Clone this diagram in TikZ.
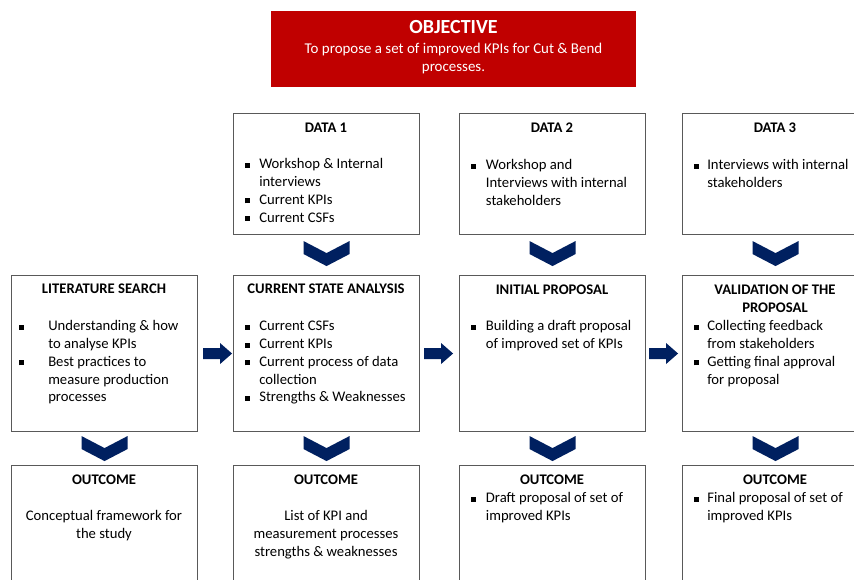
\documentclass[tikz,border=0pt]{standalone}
\usepackage{fontspec}
\setmainfont{Carlito}
\usetikzlibrary{calc}
\definecolor{objred}{HTML}{C00000}
\definecolor{navy}{HTML}{002060}
\definecolor{boxline}{HTML}{595959}
\newcommand{\sq}{\raisebox{0.9pt}{\rule{3.6pt}{3.6pt}}}
\newcommand{\blist}[2]{\begin{tabular}[t]{@{}p{#1}@{}l@{}}#2\end{tabular}}
\newcommand{\clines}[1]{\begin{tabular}[t]{@{}c@{}}#1\end{tabular}}
\tikzset{
 box/.style={draw=boxline, line width=0.8pt, anchor=north west, minimum width=139.5pt, inner sep=0pt},
 hdr/.style={font=\fontsize{11pt}{13.3pt}\selectfont\bfseries, anchor=base, inner sep=0pt},
 body/.style={font=\fontsize{11pt}{13.3pt}\selectfont, anchor=base west, inner sep=0pt},
 ctext/.style={font=\fontsize{11pt}{13.3pt}\selectfont, anchor=base, inner sep=0pt},
 chevron/.pic={\fill[navy] (-23,0) -- (-23,13) -- (0,25) -- (23,13) -- (23,0) -- (0,12) -- cycle;},
 rarrow/.pic={\fill[navy] (0,-5.5) -- (17,-5.5) -- (17,-10.5) -- (29,0) -- (17,10.5) -- (17,5.5) -- (0,5.5) -- cycle;}
}
\begin{document}
\begin{tikzpicture}[x=0.75pt,y=-0.75pt]
\useasboundingbox (0,0) rectangle (854,580);
\clip (0,0) rectangle (854,580);
\fill[white] (0,0) rectangle (854,580);
% objective
\node[fill=objred, anchor=north west, minimum width=273.75pt, minimum height=57pt, inner sep=0pt] (obj) at (271,11) {};
\node[font=\fontsize{15pt}{17pt}\selectfont\bfseries, text=white, anchor=base, inner sep=0pt] (objt) at (453.5,33.5) {OBJECTIVE};
\node[font=\fontsize{11.2pt}{13.6pt}\selectfont, text=white, anchor=base, inner sep=0pt] (objb) at (453.5,53.5) {\clines{To propose a set of improved KPIs for Cut \& Bend\\processes.}};
% boxes
\node[box, minimum height=90.75pt] (d1) at (233,113) {};
\node[box, minimum height=90.75pt] (d2) at (459,113) {};
\node[box, minimum height=90.75pt] (d3) at (682,113) {};
\node[box, minimum height=117pt] (lit) at (11,275) {};
\node[box, minimum height=117pt] (cur) at (233,275) {};
\node[box, minimum height=117pt] (ini) at (459,275) {};
\node[box, minimum height=117pt] (val) at (682,275) {};
\node[box, minimum height=117pt] (o1) at (11,465) {};
\node[box, minimum height=117pt] (o2) at (233,465) {};
\node[box, minimum height=117pt] (o3) at (459,465) {};
\node[box, minimum height=117pt] (o4) at (682,465) {};
% data texts
\node[hdr] (d1h) at (326,133) {DATA 1};
\node[body] (d1b) at (245,169) {\blist{10.5pt}{\sq & Workshop \& Internal\\ & interviews\\ \sq & Current KPIs\\ \sq & Current CSFs}};
\node[hdr] (d2h) at (552,133) {DATA 2};
\node[body] (d2b) at (471,170) {\blist{11pt}{\sq & Workshop and\\ & Interviews with internal\\ & stakeholders}};
\node[hdr] (d3h) at (775,133) {DATA 3};
\node[body] (d3b) at (694,170) {\blist{9.75pt}{\sq & Interviews with internal\\ & stakeholders}};
% row 2 texts
\node[hdr] (lith) at (104,294) {LITERATURE SEARCH};
\node[body] (litb) at (19,331) {\blist{21.75pt}{\sq & Understanding \& how\\ & to analyse KPIs\\ \sq & Best practices to\\ & measure production\\ & processes}};
\node[hdr] (curh) at (326,294) {CURRENT STATE ANALYSIS};
\node[body] (curb) at (245,331) {\blist{10.5pt}{\sq & Current CSFs\\ \sq & Current KPIs\\ \sq & Current process of data\\ & collection\\ \sq & Strengths \& Weaknesses}};
\node[hdr] (inih) at (552,295) {INITIAL PROPOSAL};
\node[body] (inib) at (471,331) {\blist{11pt}{\sq & Building a draft proposal\\ & of improved set of KPIs}};
\node[hdr] (valh) at (775,295) {\clines{VALIDATION OF THE\\PROPOSAL}};
\node[body] (valb) at (694,331) {\blist{9.75pt}{\sq & Collecting feedback\\ & from stakeholders\\ \sq & Getting final approval\\ & for proposal}};
% outcome texts
\node[hdr] (o1h) at (104,485) {OUTCOME};
\node[ctext] (o1b) at (104,521) {\clines{Conceptual framework for\\the study}};
\node[hdr] (o2h) at (326,485) {OUTCOME};
\node[ctext] (o2b) at (326,521) {\clines{List of KPI and\\measurement processes\\strengths \& weaknesses}};
\node[hdr] (o3h) at (552,485) {OUTCOME};
\node[body] (o3b) at (471,503) {\blist{11pt}{\sq & Draft proposal of set of\\ & improved KPIs}};
\node[hdr] (o4h) at (775,485) {OUTCOME};
\node[body] (o4b) at (694,503) {\blist{9.75pt}{\sq & Final proposal of set of\\ & improved KPIs}};
% chevrons
\pic at ($(d1.south)+(0,6)$) {chevron};
\pic at ($(d2.south)+(0,6)$) {chevron};
\pic at ($(d3.south)+(0,6)$) {chevron};
\pic at ($(lit.south)+(0,4)$) {chevron};
\pic at ($(cur.south)+(0,4)$) {chevron};
\pic at ($(ini.south)+(0,4)$) {chevron};
\pic at ($(val.south)+(0,4)$) {chevron};
% right arrows
\pic at ($(lit.east)+(5,0)$) {rarrow};
\pic at ($(cur.east)+(4,0)$) {rarrow};
\pic at ($(ini.east)+(3,0)$) {rarrow};
\end{tikzpicture}
\end{document}
